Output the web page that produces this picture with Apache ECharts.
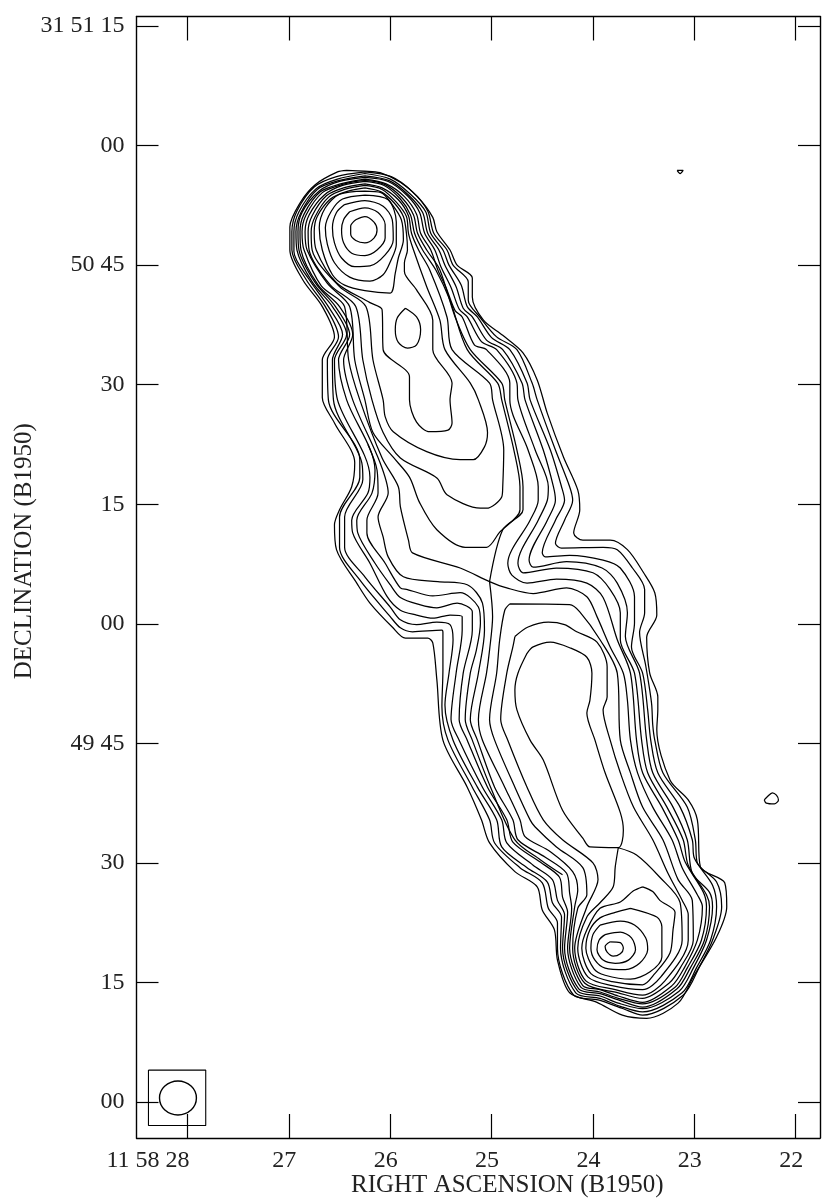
<!DOCTYPE html>
<html><head><meta charset="utf-8">
<style>html,body{margin:0;padding:0;background:#fff}#c{width:830px;height:1198px}</style>
<script src="https://cdn.jsdelivr.net/npm/echarts@6/dist/echarts.min.js"></script>
</head><body><div id="c"></div>
<script>
const raTicks=[28,27,26,25,24,23,22];
const raLabels=['11 58 28','27','26','25','24','23','22'];
const decTicks=[135,120,105,90,75,60,45,30,15,0];
const decLabels=['31 51 15','00','50 45','30','15','00','49 45','30','15','00'];
const raName='RIGHT ASCENSION (B1950)';
const decName='DECLINATION (B1950)';

const outer1=[[26.43,116.9],[26.25,116.8],[26.10,116.6],[25.90,115.4],[25.73,113.6],[25.58,111.0],[25.54,109.2],[25.41,106.9],[25.34,105.0],[25.19,103.4],[25.19,101.0],[25.08,98.1],[24.89,96.2],[24.69,94.0],[24.55,90.6],[24.45,86.4],[24.29,80.9],[24.15,76.8],[24.13,74.3],[24.19,71.4],[24.10,70.5],[23.83,70.5],[23.66,69.3],[23.50,66.4],[23.39,63.9],[23.37,61.1],[23.47,58.3],[23.44,53.8],[23.36,50.8],[23.36,49.2],[23.37,46.7],[23.24,40.4],[23.06,37.9],[22.97,35.4],[22.94,29.5],[22.70,27.5],[22.68,24.5],[22.78,20.7],[23.01,15.7],[23.16,12.4],[23.47,10.5],[23.71,10.9],[23.96,12.5],[24.23,13.7],[24.35,17.8],[24.38,21.6],[24.50,24.1],[24.55,27.0],[24.77,28.9],[25.02,32.5],[25.10,35.4],[25.24,39.5],[25.48,45.4],[25.54,53.0],[25.58,57.6],[25.63,58.2],[25.85,58.2],[25.98,59.6],[26.20,62.6],[26.33,65.1],[26.53,69.3],[26.55,72.4],[26.50,74.3],[26.38,77.2],[26.35,80.2],[26.55,85.2],[26.67,88.4],[26.67,93.1],[26.55,96.0],[26.67,99.8],[26.86,103.1],[26.99,106.9],[26.99,109.8],[26.89,112.8],[26.74,115.1],[26.52,116.7],[26.43,116.9]];
const outer2=[[26.25,116.7],[25.99,116.1],[25.78,114.2],[25.63,111.8],[25.57,109.0],[25.44,106.9],[25.38,105.0],[25.23,102.9],[25.23,100.6],[25.11,98.4],[24.95,96.0],[24.75,94.4],[24.60,90.2],[24.55,88.1],[24.37,81.8],[24.23,77.2],[24.20,75.5],[24.28,73.0],[24.37,70.1],[24.31,69.5],[23.90,69.6],[23.76,69.3],[23.61,67.0],[23.49,64.3],[23.49,61.4],[23.54,58.9],[23.48,54.8],[23.44,51.7],[23.42,49.8],[23.41,47.3],[23.39,45.4],[23.31,41.3],[23.07,37.0],[22.99,32.9],[22.97,30.0],[22.78,27.6],[22.73,24.5],[22.82,20.3],[22.94,17.2],[23.11,13.4],[23.51,10.9],[23.70,11.7],[23.95,12.8],[24.19,13.4],[24.35,19.3],[24.35,22.5],[24.44,24.3],[24.50,27.5],[24.72,29.4],[24.97,32.5],[25.02,35.4],[25.19,39.5],[25.43,45.4],[25.49,49.6],[25.48,54.2],[25.48,58.9],[25.49,59.2],[25.78,59.0],[25.90,59.5],[26.00,60.9],[26.30,65.5],[26.50,69.6],[26.50,73.4],[26.30,78.4],[26.30,80.6],[26.61,88.1],[26.62,93.1],[26.51,96.0],[26.64,99.8],[26.83,103.2],[26.97,106.9],[26.97,109.2],[26.92,111.8],[26.75,114.8],[26.53,116.1],[26.25,116.7]];
const outer3=[[26.25,116.5],[26.00,115.8],[25.80,113.9],[25.65,111.7],[25.60,109.0],[25.48,106.9],[25.42,105.0],[25.30,102.5],[25.24,99.8],[25.14,98.5],[25.00,95.9],[24.82,94.4],[24.65,90.2],[24.62,88.1],[24.42,81.8],[24.31,77.2],[24.28,75.5],[24.37,73.0],[24.50,68.9],[24.47,68.4],[24.23,68.6],[23.90,68.0],[23.73,67.0],[23.59,63.4],[23.59,60.1],[23.62,57.1],[23.51,53.8],[23.46,49.2],[23.43,45.4],[23.36,41.3],[23.14,37.0],[23.02,32.9],[23.00,30.6],[22.82,27.2],[22.78,24.5],[22.84,20.3],[22.98,16.8],[23.12,13.7],[23.51,11.3],[23.73,12.0],[23.93,13.0],[24.17,13.7],[24.32,19.3],[24.31,23.2],[24.40,25.0],[24.45,27.6],[24.65,29.4],[24.90,32.0],[24.95,35.4],[25.14,39.5],[25.38,45.4],[25.46,49.8],[25.42,53.8],[25.38,58.0],[25.41,59.9],[25.54,60.2],[25.74,59.9],[25.90,60.5],[26.00,62.1],[26.25,65.9],[26.45,69.6],[26.45,73.4],[26.27,78.1],[26.28,80.2],[26.56,88.1],[26.57,93.1],[26.47,96.3],[26.61,99.8],[26.80,103.2],[26.95,106.7],[26.95,109.2],[26.90,111.7],[26.73,114.6],[26.52,115.8],[26.25,116.5]];
const outer4=[[26.25,116.2],[26.01,115.6],[25.82,113.8],[25.68,111.6],[25.63,109.0],[25.52,106.9],[25.46,105.0],[25.35,102.3],[25.28,99.6],[25.19,98.5],[25.05,95.6],[24.89,94.4],[24.70,90.2],[24.67,88.1],[24.49,81.8],[24.39,77.2],[24.37,75.5],[24.45,73.0],[24.63,68.0],[24.59,67.1],[24.26,67.8],[23.91,67.0],[23.76,65.1],[23.66,61.4],[23.68,58.4],[23.54,53.8],[23.47,45.4],[23.41,41.3],[23.21,37.0],[23.07,32.9],[23.02,28.7],[22.85,26.3],[22.82,24.5],[22.88,20.3],[23.01,16.8],[23.15,13.9],[23.51,11.7],[23.75,12.4],[23.93,13.3],[24.15,13.9],[24.30,19.3],[24.28,23.5],[24.35,25.3],[24.40,27.9],[24.59,29.7],[24.85,32.5],[24.90,35.4],[25.09,39.5],[25.32,45.4],[25.40,48.0],[25.35,53.8],[25.29,59.2],[25.29,60.9],[25.41,61.1],[25.58,60.7],[25.74,61.1],[25.90,61.7],[26.03,63.4],[26.20,67.6],[26.37,71.4],[26.38,73.0],[26.22,76.4],[26.20,78.4],[26.52,88.1],[26.55,93.1],[26.43,96.3],[26.57,99.8],[26.77,102.9],[26.92,106.9],[26.93,109.2],[26.88,111.6],[26.72,114.5],[26.51,115.6],[26.25,116.2]];
const outer5=[[26.25,116.0],[26.02,115.5],[25.83,113.7],[25.71,111.6],[25.66,109.0],[25.56,106.9],[25.50,104.8],[25.40,102.2],[25.32,99.5],[25.24,98.5],[25.10,95.4],[24.95,94.4],[24.75,90.2],[24.74,88.1],[24.57,81.8],[24.44,77.2],[24.45,75.5],[24.54,73.0],[24.74,67.6],[24.69,66.4],[24.36,67.0],[24.00,66.4],[23.83,64.3],[23.73,61.4],[23.73,58.0],[23.59,53.8],[23.52,45.4],[23.46,41.3],[23.27,37.0],[23.11,32.9],[23.06,29.7],[22.88,26.0],[22.85,24.5],[22.90,20.3],[23.04,16.8],[23.17,14.2],[23.51,11.9],[23.75,12.8],[23.93,13.6],[24.14,14.2],[24.28,19.3],[24.25,23.8],[24.30,25.7],[24.33,28.2],[24.52,30.1],[24.79,32.6],[24.85,35.4],[25.04,39.5],[25.24,45.4],[25.32,48.0],[25.28,53.8],[25.19,59.2],[25.19,61.5],[25.34,62.6],[25.54,62.0],[25.71,62.4],[25.90,63.3],[26.00,64.9],[26.15,67.6],[26.32,71.4],[26.33,73.0],[26.18,76.4],[26.15,79.3],[26.43,88.1],[26.51,93.1],[26.40,96.3],[26.54,99.8],[26.74,102.8],[26.90,106.9],[26.91,109.2],[26.87,111.6],[26.70,114.3],[26.50,115.5],[26.25,116.0]];
const outer6=[[26.25,115.8],[26.04,115.2],[25.86,113.6],[25.74,111.4],[25.70,109.0],[25.60,106.9],[25.53,104.4],[25.45,102.2],[25.36,99.3],[25.29,98.5],[25.17,95.0],[25.05,94.4],[24.82,90.2],[24.82,88.1],[24.64,81.8],[24.54,77.2],[24.54,75.5],[24.62,73.0],[24.84,67.6],[24.80,66.1],[24.65,65.1],[24.36,65.6],[24.06,65.1],[23.90,63.3],[23.76,58.0],[23.63,53.8],[23.57,45.4],[23.51,41.3],[23.32,37.0],[23.16,32.9],[23.09,30.1],[22.91,26.3],[22.88,24.5],[22.93,20.3],[23.07,16.8],[23.19,14.4],[23.51,12.3],[23.75,13.0],[23.93,13.8],[24.12,14.4],[24.25,19.3],[24.21,24.3],[24.23,26.2],[24.26,28.7],[24.47,30.7],[24.74,32.9],[24.79,35.4],[24.97,39.5],[25.14,45.4],[25.21,48.0],[25.13,53.8],[25.07,59.2],[25.09,62.6],[25.24,64.9],[25.53,65.3],[25.87,65.9],[26.02,68.4],[26.07,70.9],[26.12,73.4],[26.02,76.4],[26.10,80.2],[26.37,88.1],[26.46,93.1],[26.37,96.3],[26.50,99.8],[26.71,102.5],[26.88,106.9],[26.89,109.2],[26.85,111.4],[26.69,114.2],[26.49,115.2],[26.25,115.8]];
const extraArc=[[26.22,82.5],[26.13,79.3],[26.12,76.4],[26.23,73.0],[26.23,71.4],[26.05,67.6],[25.90,64.5],[25.83,64.3],[25.58,63.5],[25.31,63.9],[25.13,62.1],[25.11,60.1],[25.15,56.7],[25.21,53.8],[25.26,48.0],[25.19,45.4],[25.01,39.5],[24.77,32.9],[24.52,30.4],[24.30,28.5]];
const saddle=[[25.02,65.3],[24.89,71.8],[24.69,74.3],[24.69,77.2],[24.75,81.8],[24.87,88.1],[24.90,90.2],[25.21,94.4],[25.36,98.5],[25.51,104.4],[25.64,106.9],[25.73,109.0],[25.77,111.3],[25.88,113.4],[26.05,115.1],[26.25,115.6],[26.48,115.1],[26.67,114.1],[26.83,111.3],[26.87,109.2],[26.85,106.9],[26.68,102.4],[26.45,99.8],[26.41,93.1],[26.30,88.1],[26.08,80.8],[25.92,77.2],[25.90,74.7],[25.82,70.5],[25.78,68.9],[25.31,67.0],[25.02,65.3],[24.85,64.5],[24.59,63.8],[24.26,64.5],[24.06,63.4],[23.96,60.9],[23.83,57.1],[23.70,53.8],[23.66,50.4],[23.63,45.4],[23.56,41.3],[23.41,37.0],[23.22,32.9],[23.12,29.4],[22.97,26.0],[22.92,24.5],[22.97,20.3],[23.10,16.8],[23.22,14.6],[23.51,12.5],[23.75,13.3],[23.93,14.1],[24.10,14.6],[24.23,19.3],[24.18,24.5],[24.15,26.6],[24.20,28.9],[24.42,31.4],[24.67,33.3],[24.72,35.4],[24.87,39.5],[25.09,45.4],[25.13,48.0],[25.05,53.8],[25.02,56.7],[24.99,60.9],[25.02,65.3]];
const north2=[[26.25,115.5],[26.06,115.0],[25.90,113.3],[25.80,111.3],[25.76,109.0],[25.68,106.9],[25.55,104.4],[25.41,100.6],[25.24,94.4],[24.94,90.2],[24.90,88.1],[24.78,81.8],[24.72,77.2],[24.72,74.3],[24.92,71.5],[25.05,69.6],[25.26,69.6],[25.54,71.8],[25.71,75.2],[25.81,78.4],[25.97,80.9],[26.17,84.0],[26.25,88.1],[26.35,93.1],[26.40,99.8],[26.62,102.7],[26.82,106.9],[26.84,109.2],[26.80,111.3],[26.65,113.8],[26.47,115.0],[26.25,115.5]];
const north3=[[26.25,115.2],[26.08,114.7],[25.92,113.2],[25.82,111.2],[25.79,109.0],[25.72,106.9],[25.61,104.4],[25.44,98.5],[25.39,94.4],[25.02,90.2],[24.99,88.1],[24.88,81.8],[24.89,77.2],[24.90,75.9],[25.05,74.5],[25.11,74.5],[25.44,76.2],[25.54,78.3],[25.90,80.8],[26.07,84.0],[26.18,88.1],[26.27,93.1],[26.34,99.8],[26.59,102.5],[26.80,106.9],[26.81,109.2],[26.77,111.2],[26.63,113.7],[26.46,114.7],[26.25,115.2]];
const north4=[[26.25,115.0],[26.08,114.5],[25.94,112.9],[25.84,111.1],[25.82,109.0],[25.77,106.9],[25.64,102.3],[25.51,98.1],[25.46,94.4],[25.21,90.2],[25.13,88.1],[25.04,84.0],[25.07,82.2],[25.18,80.6],[25.31,80.6],[25.64,81.6],[25.97,84.1],[26.05,86.0],[26.07,88.1],[26.17,93.1],[26.24,99.8],[26.50,102.3],[26.77,106.9],[26.78,109.2],[26.74,111.1],[26.61,113.5],[26.45,114.5],[26.25,115.0]];
const north5=[[26.25,114.7],[26.09,114.2],[25.96,112.8],[25.87,111.1],[25.84,109.0],[25.83,106.9],[25.86,105.3],[25.86,104.2],[25.74,101.9],[25.58,98.1],[25.58,94.4],[25.39,90.2],[25.41,88.1],[25.39,85.2],[25.43,84.3],[25.61,84.1],[25.74,85.3],[25.81,88.1],[25.81,91.0],[26.07,94.4],[26.08,99.4],[26.20,100.3],[26.53,102.8],[26.73,106.9],[26.75,109.2],[26.72,111.1],[26.59,113.3],[26.44,114.2],[26.25,114.7]];
const northOval=[[25.85,99.6],[25.74,98.5],[25.70,96.9],[25.74,95.0],[25.83,94.6],[25.92,95.3],[25.95,96.9],[25.93,98.4],[25.85,99.6]];
const coreN1=[[26.25,114.3],[26.09,114.1],[25.98,112.6],[25.89,110.7],[25.87,108.2],[25.92,105.9],[25.95,104.0],[26.00,101.5],[26.25,101.8],[26.45,102.5],[26.57,103.8],[26.67,106.9],[26.70,109.7],[26.64,112.2],[26.50,113.9],[26.25,114.3]];
const coreN2=[[26.25,113.8],[26.02,113.2],[25.94,110.4],[25.94,107.6],[26.00,105.4],[26.07,103.8],[26.20,103.0],[26.40,103.5],[26.55,105.3],[26.62,107.6],[26.64,109.7],[26.58,111.8],[26.47,113.3],[26.25,113.8]];
const coreN3=[[26.45,112.6],[26.25,113.1],[26.07,112.4],[25.98,110.7],[25.97,108.2],[26.05,106.3],[26.20,104.9],[26.35,104.8],[26.48,105.9],[26.55,107.8],[26.57,109.7],[26.53,111.6],[26.45,112.6]];
const coreN4=[[26.40,111.7],[26.25,112.2],[26.12,111.6],[26.05,110.1],[26.05,108.4],[26.13,106.9],[26.25,106.2],[26.38,106.5],[26.46,107.8],[26.48,109.4],[26.46,110.7],[26.40,111.7]];
const coreN5=[[26.34,110.7],[26.25,111.1],[26.16,110.4],[26.13,109.4],[26.16,108.4],[26.25,107.8],[26.34,108.1],[26.39,108.9],[26.39,109.9],[26.34,110.7]];
const south1=[[24.82,62.5],[24.23,62.4],[24.13,61.5],[23.93,58.0],[23.76,53.8],[23.73,45.4],[23.63,41.3],[23.51,37.0],[23.31,32.9],[23.16,27.9],[23.02,25.3],[23.01,20.3],[23.14,16.8],[23.25,14.9],[23.51,13.0],[23.75,13.7],[24.08,14.9],[24.20,19.3],[24.15,24.3],[24.06,26.0],[24.10,29.4],[24.36,32.0],[24.57,34.5],[24.62,35.4],[24.77,39.5],[24.97,45.4],[25.02,48.0],[24.95,53.8],[24.92,58.0],[24.87,61.7],[24.82,62.5]];
const south2=[[24.77,58.4],[24.64,59.6],[24.44,60.2],[24.28,59.9],[24.16,59.0],[23.96,57.7],[23.86,54.6],[23.86,50.8],[23.90,49.2],[23.83,45.4],[23.73,41.3],[23.60,37.0],[23.41,32.9],[23.26,28.7],[23.12,25.3],[23.06,23.5],[23.06,20.3],[23.29,15.2],[23.51,13.4],[23.78,14.1],[24.07,15.2],[24.18,19.3],[24.06,24.5],[23.95,27.9],[24.00,30.0],[24.30,32.9],[24.49,35.4],[24.65,39.5],[24.84,45.4],[24.91,48.0],[24.85,53.8],[24.79,57.1],[24.77,58.4]];
const plateau=[[24.65,56.3],[24.59,57.1],[24.42,57.7],[24.23,57.0],[24.06,55.8],[24.01,53.8],[24.03,50.4],[24.06,48.8],[23.98,45.4],[23.88,41.3],[23.73,36.3],[23.70,34.1],[23.75,31.9],[24.03,32.0],[24.10,33.1],[24.30,36.6],[24.49,42.9],[24.62,45.4],[24.75,49.2],[24.77,51.7],[24.74,53.8],[24.65,56.3]];
const coreS0=[[23.75,31.9],[23.57,31.0],[23.34,28.2],[23.14,25.0],[23.12,20.3],[23.33,15.7],[23.51,14.1],[23.81,14.6],[24.05,15.7],[24.15,19.3],[24.06,23.2],[23.93,25.0],[23.80,27.0],[23.78,29.5],[23.75,31.9]];
const coreS1=[[23.51,27.0],[23.41,26.4],[23.34,25.3],[23.19,23.8],[23.21,21.6],[23.24,18.7],[23.39,16.1],[23.51,14.7],[23.81,15.1],[24.02,16.1],[24.11,19.3],[24.06,21.6],[23.93,24.3],[23.73,25.1],[23.60,26.5],[23.51,27.0]];
const coreS2=[[23.63,24.3],[23.37,23.2],[23.32,22.0],[23.32,18.2],[23.44,16.3],[23.63,15.4],[23.88,15.9],[23.99,16.7],[24.07,19.3],[24.03,21.6],[23.93,23.1],[23.78,23.8],[23.63,24.3]];
const coreS3=[[23.93,22.2],[23.73,22.7],[23.59,22.2],[23.48,20.6],[23.46,19.1],[23.54,17.4],[23.68,16.6],[23.88,16.8],[23.98,17.8],[24.02,19.3],[24.00,21.0],[23.93,22.2]];
const coreS4=[[23.88,21.0],[23.73,21.3],[23.62,20.6],[23.58,19.1],[23.65,17.8],[23.78,17.4],[23.90,17.8],[23.96,19.1],[23.94,20.3],[23.88,21.0]];
const coreS5=[[23.83,20.1],[23.73,20.0],[23.70,19.3],[23.73,18.6],[23.80,18.3],[23.86,18.8],[23.88,19.5],[23.83,20.1]];
const speck=[[23.17,116.9],[23.11,116.9],[23.14,116.5],[23.17,116.9]];
const blob=[[22.31,37.9],[22.28,38.3],[22.23,38.8],[22.19,38.5],[22.17,37.9],[22.21,37.4],[22.29,37.5],[22.31,37.9]];
const beamBox=[[28.385,4.0],[27.82,4.0],[27.82,-2.95],[28.385,-2.95],[28.385,4.0]];
const beam=[[27.912,0.5],[27.925,1.32],[27.965,2.01],[28.024,2.47],[28.094,2.63],[28.164,2.47],[28.223,2.01],[28.263,1.32],[28.276,0.5],[28.263,-0.32],[28.223,-1.01],[28.164,-1.47],[28.094,-1.63],[28.024,-1.47],[27.965,-1.01],[27.925,-0.32],[27.912,0.5]];

const contours=[outer1,outer2,outer3,outer4,outer5,outer6,extraArc,saddle,north2,north3,north4,north5,northOval,coreN1,coreN2,coreN3,coreN4,coreN5,south1,south2,plateau,coreS0,coreS1,coreS2,coreS3,coreS4,coreS5,speck,blob];
const ink='#000';
const textInk='#222';
const font='"Liberation Serif",serif';
const xBase={type:'value',min:21.76,max:28.503,inverse:true,splitLine:{show:false},
  axisLine:{show:true,onZero:false,lineStyle:{color:ink,width:1.4}},
  axisTick:{show:true,inside:true,length:24,customValues:raTicks,lineStyle:{color:ink,width:1.2}}};
const yBase={type:'value',min:-4.52,max:136.2,splitLine:{show:false},
  axisLine:{show:true,onZero:false,lineStyle:{color:ink,width:1.4}},
  axisTick:{show:true,inside:true,length:22,customValues:decTicks,lineStyle:{color:ink,width:1.2}}};
const series=contours.map(c=>({type:'line',data:c,smooth:0.3,showSymbol:false,silent:true,lineStyle:{color:ink,width:1.25}}));
series.push({type:'line',data:beamBox,showSymbol:false,silent:true,lineStyle:{color:ink,width:1.1}});
series.push({type:'line',data:beam,smooth:0.5,showSymbol:false,silent:true,lineStyle:{color:ink,width:1.4}});
const chart=echarts.init(document.getElementById('c'),null,{renderer:'canvas'});
chart.setOption({animation:false,backgroundColor:'#fff',
  grid:{left:136.5,top:16.5,width:683.5,height:1121.5,containLabel:false,outerBoundsMode:'none'},
  xAxis:[Object.assign({},xBase,{position:'bottom',name:raName,nameLocation:'middle',nameGap:35,nameMoveOverlap:false,
      nameTextStyle:{fontFamily:font,fontSize:25,color:textInk,padding:[0,0,0,58]},
      axisLabel:{show:true,inside:false,margin:11,fontFamily:font,fontSize:24,color:textInk,customValues:raTicks,
        rich:{first:{fontFamily:font,fontSize:24,color:textInk,padding:[0,79,0,0]},rest:{fontFamily:font,fontSize:24,color:textInk,padding:[0,9,0,0]}},
        formatter:v=>{const i=raTicks.indexOf(v);return '{'+(i===0?'first':'rest')+'|'+raLabels[i]+'}';}}}),
    Object.assign({},xBase,{position:'top',axisLabel:{show:false}})],
  yAxis:[Object.assign({},yBase,{position:'left',name:decName,nameLocation:'middle',nameGap:100,nameRotate:90,nameMoveOverlap:false,
      nameTextStyle:{fontFamily:font,fontSize:25,color:textInk,padding:[0,0,0,52]},
      axisLabel:{show:true,margin:12,fontFamily:font,fontSize:24,color:textInk,customValues:decTicks,padding:[3,0,0,0],
        formatter:v=>decLabels[decTicks.indexOf(v)]}}),
    Object.assign({},yBase,{position:'right',axisLabel:{show:false}})],
  series:series});
</script></body></html>
